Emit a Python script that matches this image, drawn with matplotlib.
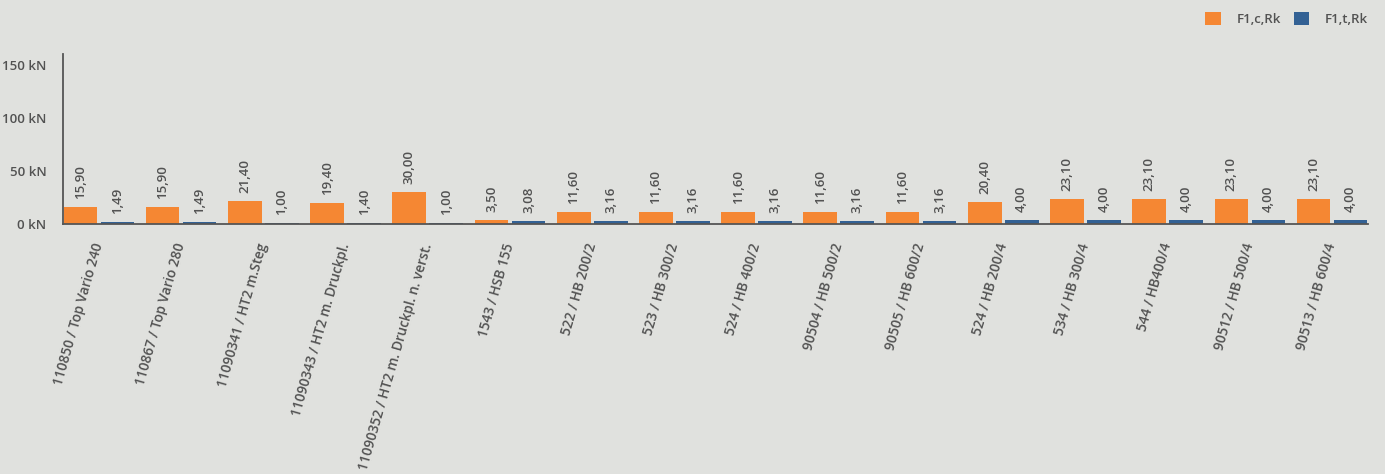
import matplotlib
matplotlib.use("Agg")
import matplotlib.pyplot as plt
import numpy as np

categories = [
    "110850 / Top Vario 240",
    "110867 / Top Vario 280",
    "11090341 / HT2 m.Steg",
    "11090343 / HT2 m. Druckpl.",
    "11090352 / HT2 m. Druckpl. n. verst.",
    "1543 / HSB 155",
    "522 / HB 200/2",
    "523 / HB 300/2",
    "524 / HB 400/2",
    "90504 / HB 500/2",
    "90505 / HB 600/2",
    "524 / HB 200/4",
    "534 / HB 300/4",
    "544 / HB400/4",
    "90512 / HB 500/4",
    "90513 / HB 600/4",
]
f1c = [15.90, 15.90, 21.40, 19.40, 30.00, 3.50, 11.60, 11.60, 11.60, 11.60, 11.60, 20.40, 23.10, 23.10, 23.10, 23.10]
f1t = [1.49, 1.49, 1.00, 1.40, 1.00, 3.08, 3.16, 3.16, 3.16, 3.16, 3.16, 4.00, 4.00, 4.00, 4.00, 4.00]
series_names = ["F1,c,Rk", "F1,t,Rk"]
yticks = [0, 50, 100, 150]
ytick_labels = ["0 kN", "50 kN", "100 kN", "150 kN"]

BG = "#e0e1de"
ORANGE = "#f58733"
BLUE = "#336194"
TXT = "#525252"

plt.rcParams['font.family'] = ['Open Sans', 'DejaVu Sans']

fig = plt.figure(figsize=(13.85, 4.74), dpi=100, facecolor=BG)
ax = fig.add_axes([63/1385, 1-224/474, (1368-63)/1385, (224-54)/474])
ax.set_facecolor(BG)

x = np.arange(len(categories))
w = 0.41
b1 = ax.bar(x - 0.225, f1c, width=w, color=ORANGE, label=series_names[0], zorder=2)
b2 = ax.bar(x + 0.225, f1t, width=w, color=BLUE, label=series_names[1], zorder=2)

def fmt(v):
    return f"{v:.2f}".replace(".", ",")

for bars, vals in ((b1, f1c), (b2, f1t)):
    for r, v in zip(bars, vals):
        ax.annotate(fmt(v), (r.get_x() + r.get_width()/2, r.get_height()),
                    xytext=(0, 8), textcoords='offset pixels',
                    rotation=90, ha='center', va='bottom',
                    fontsize=9.5, color=TXT, fontweight='semibold')

ax.set_ylim(0, 160)
ax.set_xlim(-0.437, len(categories) - 1 + 0.437)
ax.set_yticks(yticks)
ax.set_yticklabels(ytick_labels, fontsize=9.5, color=TXT, fontweight='semibold')
ax.set_xticks(x)
ax.set_xticklabels(categories, rotation=74, ha='right', va='center',
                   rotation_mode='anchor', fontsize=9.8, color=TXT,
                   fontweight='semibold')
ax.tick_params(axis='x', length=0, pad=14)
ax.tick_params(axis='y', length=0, pad=12)
for s in ('top', 'right'):
    ax.spines[s].set_visible(False)
ax.spines['left'].set_color('#555555')
ax.spines['bottom'].set_color('#555555')
ax.spines['left'].set_linewidth(1.3)
ax.spines['bottom'].set_linewidth(1.3)

leg = fig.legend(handles=[b1, b2], labels=series_names, loc='upper right',
                 bbox_to_anchor=(1380/1385, 1.0), ncol=2, frameon=False,
                 handlelength=1.15, handleheight=1.15,
                 columnspacing=1.0, handletextpad=1.2,
                 prop={'weight': 'semibold', 'size': 9.5})
for t in leg.get_texts():
    t.set_color(TXT)

fig.savefig("out.png", dpi=100, facecolor=BG)
